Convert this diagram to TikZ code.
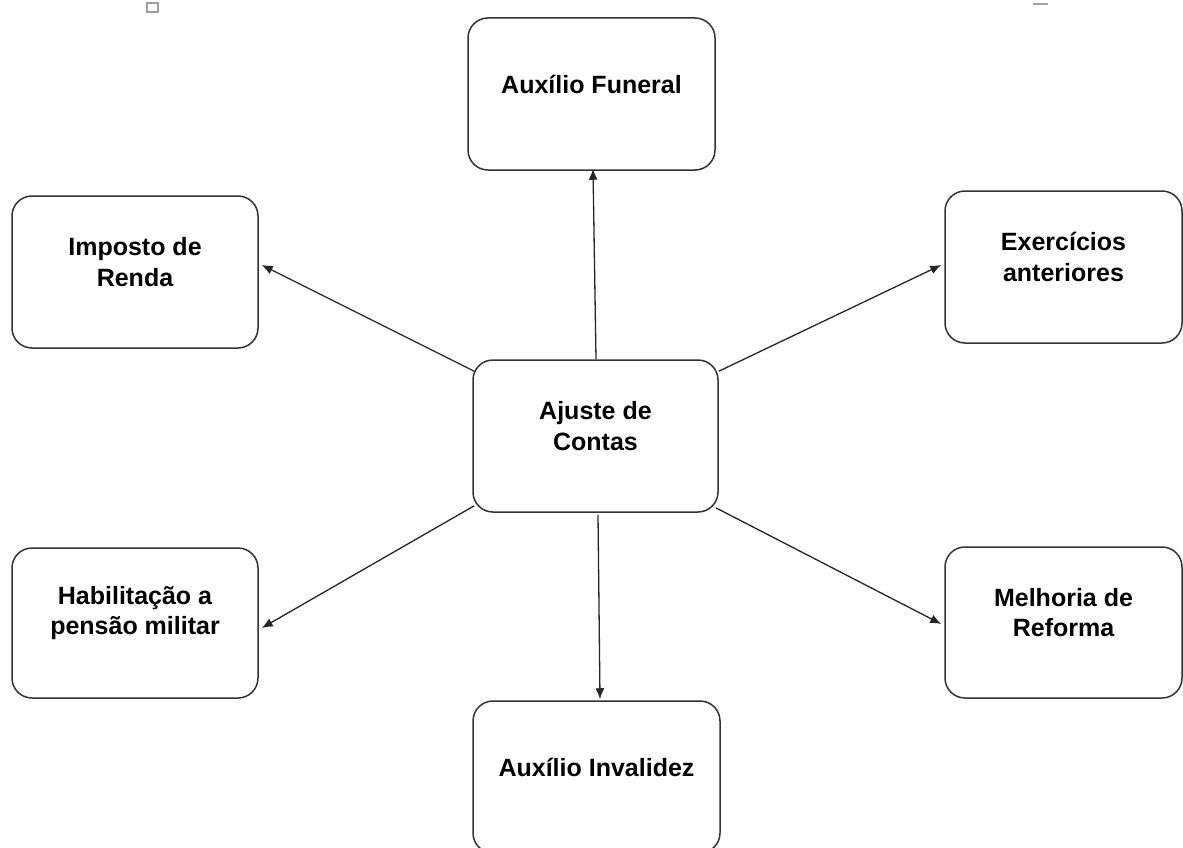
\documentclass[tikz,border=0pt]{standalone}
\usepackage{fontspec}
\setmainfont{Liberation Sans}
\usetikzlibrary{arrows.meta}
\definecolor{edgegray}{HTML}{333333}
\definecolor{markgray}{HTML}{A0A0A0}
\tikzset{
  topic/.style={draw=edgegray, line width=1.5pt, rounded corners=20pt,
    minimum width=#1, minimum height=152pt, inner sep=0pt},
  caption/.style={font=\fontsize{25}{30.5}\selectfont\bfseries, align=center,
    text=black, yshift=10pt},
  link/.style={draw=black!85, line width=1.3pt,
    -{Latex[length=11pt,width=9pt]}}
}
\begin{document}
\begin{tikzpicture}[x=1pt,y=-1pt]
  % canvas
  \path[use as bounding box, fill=white] (0,0) rectangle (1183,848);
  \clip (0,0) rectangle (1183,848);

  % small window marks along the top edge
  \draw[draw=markgray, line width=1.5pt] (147,3) rectangle (158,12);
  \draw[draw=markgray, line width=1.5pt] (1033,4) -- (1048,4);

  % boxes
  \node[topic=245pt] (aju) at (595.5,436) {};
  \node[topic=247pt] (fun) at (591.5,94) {};
  \node[topic=246pt] (imp) at (135,272) {};
  \node[topic=237pt] (exe) at (1063.5,267) {};
  \node[topic=246pt, minimum height=150pt] (hab) at (135,623) {};
  \node[topic=237pt, minimum height=151pt] (mel) at (1063.5,622.5) {};
  \node[topic=247pt] (inv) at (596.5,777) {};

  % captions
  \node[caption] (ajuT) at (aju.center) {Ajuste de\\Contas};
  \node[caption] (funT) at (fun.center) {Auxílio Funeral};
  \node[caption] (impT) at (imp.center) {Imposto de\\Renda};
  \node[caption] (exeT) at (exe.center) {Exercícios\\anteriores};
  \node[caption] (habT) at (hab.center) {Habilitação a\\pensão militar};
  \node[caption] (melT) at (mel.center) {Melhoria de\\Reforma};
  \node[caption] (invT) at (inv.center) {Auxílio Invalidez};

  % connectors
  \draw[link] ([xshift=0.5pt]aju.north) -- ([shift={(1.5,-2)}]fun.south);
  \draw[link] ([shift={(2.5,2)}]aju.south) -- ([shift={(3.5,-1)}]inv.north);
  \draw[link] ([shift={(2,12)}]aju.north west) -- ([shift={(3,-7)}]imp.east);
  \draw[link] ([shift={(0,12)}]aju.north east) -- ([shift={(-3,-2)}]exe.west);
  \draw[link] ([shift={(2,-7)}]aju.south west) -- ([shift={(3,5)}]hab.east);
  \draw[link] ([shift={(-3,-5)}]aju.south east) -- ([shift={(-3,1.5)}]mel.west);
\end{tikzpicture}
\end{document}
